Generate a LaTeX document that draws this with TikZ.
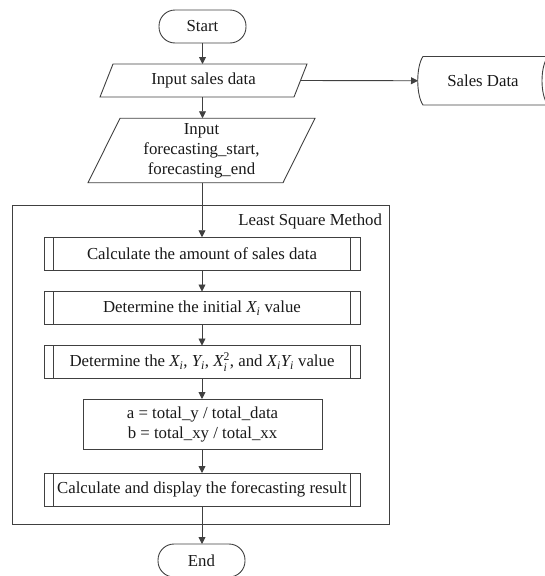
\documentclass[tikz,border=0pt]{standalone}
\usepackage{amsmath}
\usepackage{fontspec}
\setmainfont{Liberation Serif}
\usetikzlibrary{arrows.meta,calc}
\begin{document}
\begin{tikzpicture}[x=1pt,y=-1pt,
  font=\fontsize{16.8}{20}\selectfont,
  line width=0.9pt,
  every node/.style={inner sep=0pt, outer sep=0pt, text=black!90},
  lin/.style={draw=black!75, line width=0.9pt},
  arr/.style={lin, -{Triangle[length=7pt,width=7pt]}},
  term/.style={lin, rectangle, rounded corners=16pt, minimum width=87pt, minimum height=33pt},
  iobox/.style={minimum height=33pt, align=center},
  subproc/.style={lin, rectangle, minimum width=316pt, minimum height=33pt,
    path picture={
      \draw[black!75, line width=0.9pt] ([xshift=9.5pt]path picture bounding box.north west) -- ([xshift=9.5pt]path picture bounding box.south west);
      \draw[black!75, line width=0.9pt] ([xshift=-10pt]path picture bounding box.north east) -- ([xshift=-10pt]path picture bounding box.south east);
    }},
  procbox/.style={lin, rectangle, align=center},
]
\useasboundingbox (0,0) rectangle (544,576);

% group
\node[lin, rectangle, minimum width=377.5pt, minimum height=319pt] (grp) at (200.75,364.5) {};
\node[anchor=east] (lsm) at (382,221) {Least Square Method};

% start
\node[term] (start) at (202.5,26.5) {Start};

% input 1
\node[iobox, minimum width=207pt] (in1) at (203.5,80.5) {Input sales data};
\draw[lin] (in1.south west) -- ($(in1.north west)+(13,0)$) -- (in1.north east) -- ($(in1.south east)+(-13,0)$) -- cycle;

% sales data store
\node[minimum width=130pt, minimum height=48.5pt] (sales) at (483,80.75) {Sales Data};
\draw[lin] ($(sales.north west)+(5,0)$) -- (sales.north east)
  .. controls ($(sales.north east)+(-8,10)$) and ($(sales.south east)+(-8,-10)$) .. (sales.south east)
  -- ($(sales.south west)+(5,0)$)
  .. controls ($(sales.south west)+(-2,-10)$) and ($(sales.north west)+(-2,10)$) .. ($(sales.north west)+(5,0)$) -- cycle;

% input 2
\node[iobox, minimum width=227pt, minimum height=64.5pt] (in2) at (201.5,150.5) {Input\\forecasting\_start,\\forecasting\_end};
\draw[lin] (in2.south west) -- ($(in2.north west)+(32,0)$) -- (in2.north east) -- ($(in2.south east)+(-32,0)$) -- cycle;

% processes
\node[subproc] (b1) at (202,253.75) {Calculate the amount of sales data};
\node[subproc] (b2) at (202,308) {Determine the initial $\textit{X}_{\textit{i}}$ value};
\node[subproc] (b3) at (202,362) {Determine the $\textit{X}_{\textit{i}}$, $\textit{Y}_{\textit{i}}$, $\textit{X}_{\textit{i}}^{\textrm{2}}$, and $\textit{X}_{\textit{i}}\textit{Y}_{\textit{i}}$ value};
\node[procbox, minimum width=239pt, minimum height=50pt] (b4) at (202.5,424) {a = total\_y / total\_data\\b = total\_xy / total\_xx};
\node[subproc] (b5) at (202,489.5) {Calculate and display the forecasting result};

% end
\node[term] (end) at (201.5,560.5) {End};

% connectors
\draw[arr] (start.south) -- (start.south |- in1.north);
\draw[arr] (start.south |- in1.south) -- (start.south |- in2.north);
\draw[arr] ($(in1.east)+(-6.5,0)$) -- (sales.west);
\draw[arr] (b1.north |- in2.south) -- (b1.north);
\draw[arr] (b1.south) -- (b2.north);
\draw[arr] (b2.south) -- (b3.north);
\draw[arr] (b3.south) -- (b3.south |- b4.north);
\draw[arr] (b3.south |- b4.south) -- (b5.north);
\draw[arr] (b5.south) -- (b5.south |- end.north);
\end{tikzpicture}
\end{document}
